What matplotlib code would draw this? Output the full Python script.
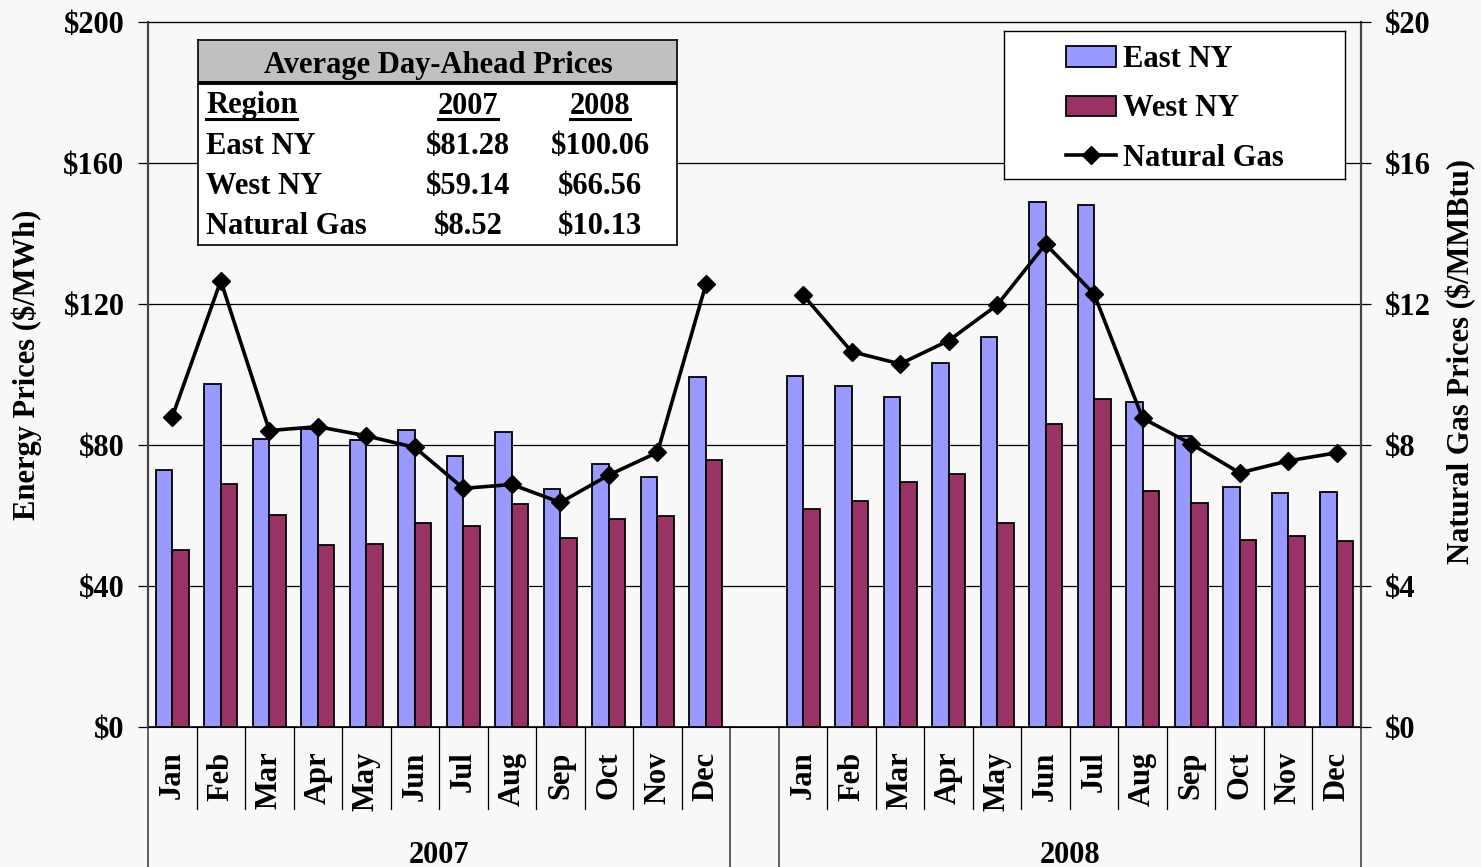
import numpy as np
import matplotlib
matplotlib.use('Agg')
import matplotlib.pyplot as plt
from matplotlib.patches import Rectangle, Patch
from matplotlib.lines import Line2D

plt.rcParams['font.family'] = ['Liberation Serif', 'DejaVu Serif']
plt.rcParams['font.weight'] = 'bold'
plt.rcParams['font.size'] = 22

months = ['Jan', 'Feb', 'Mar', 'Apr', 'May', 'Jun',
          'Jul', 'Aug', 'Sep', 'Oct', 'Nov', 'Dec']
years = ['2007', '2008']

east_2007 = [72.9, 97.2, 81.7, 84.5, 81.4, 84.3, 76.9, 83.7, 67.4, 74.7, 71.0, 99.2]
west_2007 = [50.2, 69.0, 60.2, 51.5, 51.9, 57.9, 57.1, 63.3, 53.5, 59.0, 60.0, 75.8]
gas_2007 = [8.80, 12.66, 8.41, 8.52, 8.26, 7.93, 6.77, 6.88, 6.37, 7.15, 7.79, 12.57]

east_2008 = [99.6, 96.6, 93.5, 103.3, 110.7, 148.9, 148.1, 92.2, 82.6, 68.1, 66.3, 66.7]
west_2008 = [61.8, 64.2, 69.5, 71.8, 57.8, 85.9, 93.0, 66.9, 63.6, 53.0, 54.3, 52.8]
gas_2008 = [12.26, 10.65, 10.30, 10.96, 11.97, 13.70, 12.28, 8.76, 8.03, 7.21, 7.55, 7.78]

# summary table (average day-ahead prices)
table_regions = ['East NY', 'West NY', 'Natural Gas']
table_2007 = ['$81.28', '$59.14', '$8.52']
table_2008 = ['$100.06', '$66.56', '$10.13']

energy_ticks = [0, 40, 80, 120, 160, 200]
gas_ticks = [0, 4, 8, 12, 16, 20]

east_col = '#9999ff'
west_col = '#993366'
bg = '#f8f8f8'

# positions: 12 months, one empty slot, 12 months
x07 = np.arange(12)
x08 = np.arange(13, 25)
xs = np.concatenate([x07, x08])
east = np.array(east_2007 + east_2008)
west = np.array(west_2007 + west_2008)
gas = np.array(gas_2007 + [np.nan] + gas_2008)
xgas = np.arange(25)

fig = plt.figure(figsize=(14.81, 8.67), dpi=100, facecolor=bg)
L, R, T, B = 148, 1361, 22, 727
W, H = 1481, 867
ax = fig.add_axes([L / W, 1 - B / H, (R - L) / W, (B - T) / H])
ax.set_facecolor(bg)

bw = 0.34
ax.bar(xs - bw / 2, east, bw, color=east_col, edgecolor='black', linewidth=1.3, zorder=3)
ax.bar(xs + bw / 2, west, bw, color=west_col, edgecolor='black', linewidth=1.3, zorder=3)

ax.set_xlim(-0.5, 24.5)
ax.set_ylim(0, 200)
ax.set_yticks(energy_ticks)
ax.set_yticklabels(['$%d' % v for v in energy_ticks])
ax.set_xticks([])
for v in energy_ticks[1:-1]:
    ax.axhline(v, color='black', lw=0.9, zorder=1)
ax.tick_params(axis='y', length=7, width=0.9, pad=10, direction='out')
for s in ['left', 'right']:
    ax.spines[s].set_color('#444444')
    ax.spines[s].set_linewidth(1.5)
ax.spines['top'].set_linewidth(0.9)
ax.spines['bottom'].set_linewidth(1.2)

ax2 = ax.twinx()
ax2.plot(xgas, gas, color='black', lw=2.6, marker='D', markersize=9, zorder=4)
ax2.set_ylim(0, 20)
ax2.set_yticks(gas_ticks)
ax2.set_yticklabels(['$%d' % v for v in gas_ticks])
ax2.tick_params(axis='y', length=7, width=0.9, pad=10, direction='out')
ax2.set_xlim(-0.5, 24.5)
for s in ['left', 'right']:
    ax2.spines[s].set_color('#444444')
    ax2.spines[s].set_linewidth(1.5)

# category axis: month labels, separators, year labels
trans = ax.get_xaxis_transform()
for i, m in enumerate(months):
    for xx in (x07[i], x08[i]):
        ax.text(xx, -0.035, m, rotation=90, ha='center', va='top', transform=trans)
for grp in (x07, x08):
    for xx in grp[1:]:
        ax.add_line(Line2D([xx - 0.5, xx - 0.5], [0, -0.116], transform=trans,
                           color='black', lw=0.9, clip_on=False))
for xx in [-0.5, 11.5, 12.5, 24.5]:
    ax.add_line(Line2D([xx, xx], [0, -0.21], transform=trans,
                       color='#444444', lw=1.2, clip_on=False))
ax.text(x07.mean(), -0.182, years[0], ha='center', va='center', transform=trans)
ax.text(x08.mean(), -0.182, years[1], ha='center', va='center', transform=trans)

fig.text(27 / W, 1 - 365 / H, 'Energy Prices ($/MWh)', rotation=90, ha='center', va='center')
fig.text(1461 / W, 1 - 361 / H, 'Natural Gas Prices ($/MMBtu)', rotation=90,
         ha='center', va='center')

# summary table box
tx0, tx1, ty0, ty1 = 198, 677, 40, 245
axt = fig.add_axes([tx0 / W, 1 - ty1 / H, (tx1 - tx0) / W, (ty1 - ty0) / H])
axt.set_xlim(tx0, tx1)
axt.set_ylim(ty1, ty0)
axt.set_xticks([])
axt.set_yticks([])
axt.set_facecolor('white')
for s in axt.spines.values():
    s.set_linewidth(1.2)
axt.add_patch(Rectangle((tx0, ty0), tx1 - tx0, 42, color='#c0c0c0', zorder=1))
axt.plot([tx0, tx1], [83, 83], color='black', lw=2.8, zorder=2)
axt.text(438, 66, 'Average Day-Ahead Prices', ha='center', va='center')
c1, c2, c3 = 206, 468, 600
heads = [axt.text(c1, 106, 'Region', ha='left', va='center'),
         axt.text(c2, 106, years[0], ha='center', va='center'),
         axt.text(c3, 106, years[1], ha='center', va='center')]
for j, reg in enumerate(table_regions):
    yy = 146 + 40 * j
    axt.text(c1, yy, reg, ha='left', va='center')
    axt.text(c2, yy, table_2007[j], ha='center', va='center')
    axt.text(c3, yy, table_2008[j], ha='center', va='center')

fig.canvas.draw()
rend = fig.canvas.get_renderer()
inv = axt.transData.inverted()
for t in heads:
    bb = t.get_window_extent(rend)
    (xa, _), (xb, _) = inv.transform([[bb.x0, bb.y0], [bb.x1, bb.y0]])
    axt.plot([xa, xb], [119, 119], color='black', lw=2.2)

# legend box
lx0, lx1, ly0, ly1 = 1004, 1345, 31, 179
axl = fig.add_axes([lx0 / W, 1 - ly1 / H, (lx1 - lx0) / W, (ly1 - ly0) / H])
axl.set_xticks([])
axl.set_yticks([])
axl.set_facecolor('white')
for s in axl.spines.values():
    s.set_linewidth(1.0)
handles = [Patch(facecolor=east_col, edgecolor='black', linewidth=1.3),
           Patch(facecolor=west_col, edgecolor='black', linewidth=1.3),
           Line2D([], [], color='black', lw=2.6, marker='D', markersize=9)]
axl.legend(handles, ['East NY', 'West NY', 'Natural Gas'], loc='center left',
           bbox_to_anchor=(0.182, 0.473), frameon=False, borderpad=0, borderaxespad=0,
           handlelength=1.63, handleheight=0.65, labelspacing=0.66, handletextpad=0.23)

fig.savefig('out.png', dpi=100, facecolor=bg)
